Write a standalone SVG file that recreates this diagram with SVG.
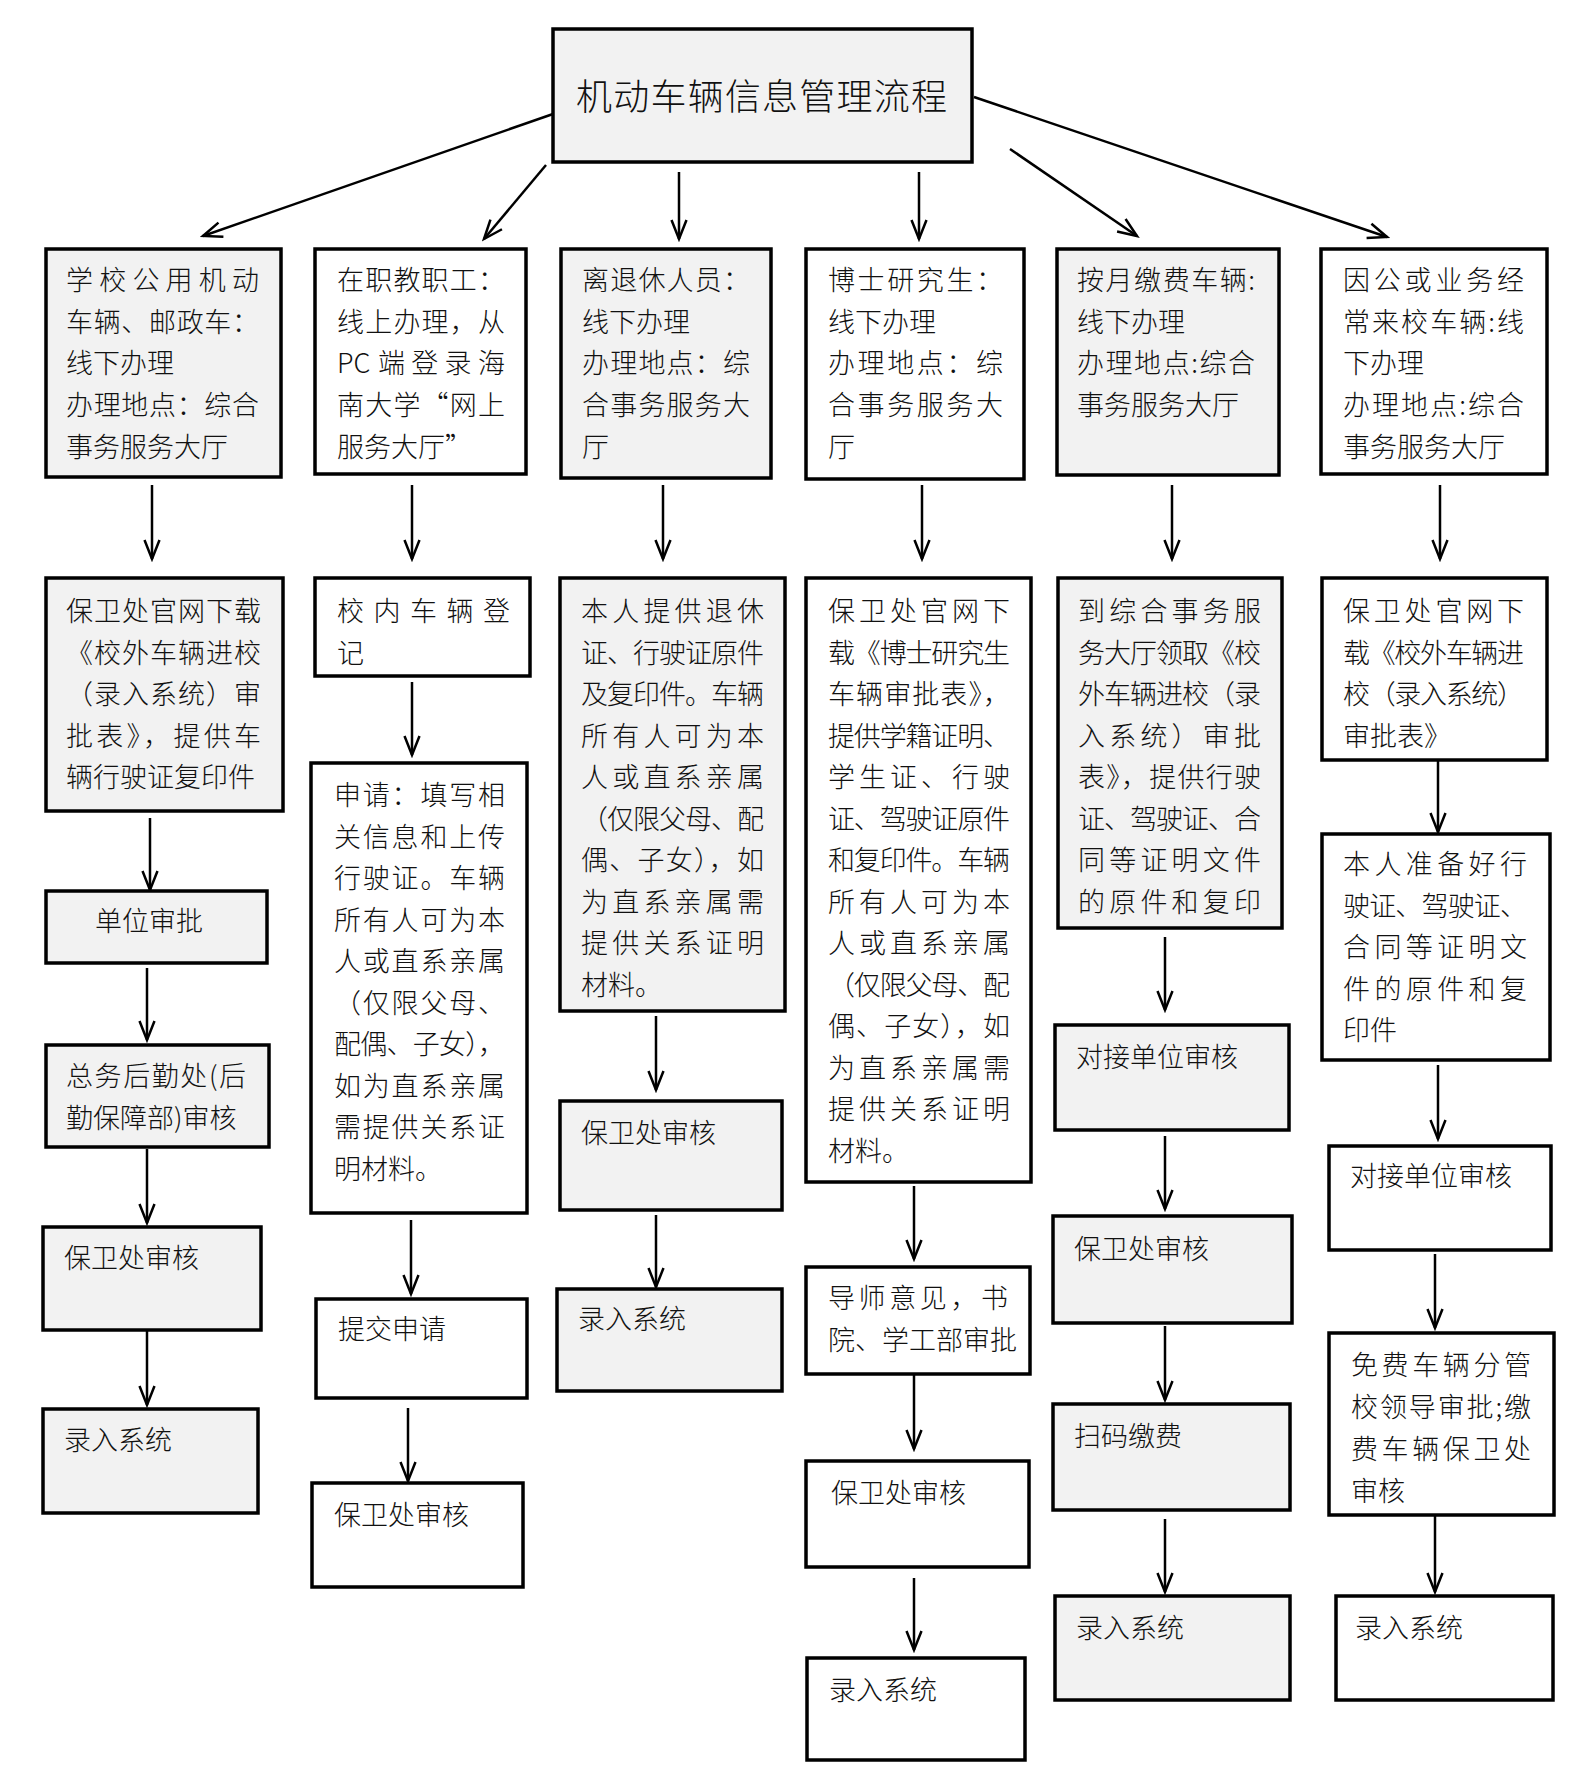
<svg xmlns="http://www.w3.org/2000/svg" width="1586" height="1789" viewBox="0 0 1586 1789">
<defs>
<style>
rect{stroke:#000;stroke-width:3.5}
.g{fill:#f2f2f2}
.w{fill:#fff}
text{font-family:"Noto Sans CJK SC","Noto Sans",sans-serif;font-size:27px;font-weight:300;fill:#111}
.title{font-size:36px}
#connectors line{stroke:#000;stroke-width:2.5;fill:none}
</style>
<marker id="ah" markerUnits="userSpaceOnUse" markerWidth="24" markerHeight="20" viewBox="0 0 24 20" refX="21" refY="10" orient="auto">
<path d="M2,2.5 L21,10 L2,17.5" fill="none" stroke="#000" stroke-width="2.5"/>
</marker>
</defs>
<rect x="0" y="0" width="1586" height="1789" fill="#fff" style="stroke:none"/>

<g id="connectors">
<line x1="553" y1="114" x2="203" y2="236" marker-end="url(#ah)"/>
<line x1="546" y1="165" x2="484" y2="239" marker-end="url(#ah)"/>
<line x1="679" y1="172" x2="679" y2="239" marker-end="url(#ah)"/>
<line x1="919" y1="172" x2="919" y2="239" marker-end="url(#ah)"/>
<line x1="1010" y1="149" x2="1137" y2="236" marker-end="url(#ah)"/>
<line x1="974" y1="97" x2="1387" y2="237" marker-end="url(#ah)"/>
<line x1="152" y1="485" x2="152" y2="559" marker-end="url(#ah)"/>
<line x1="412" y1="485" x2="412" y2="559" marker-end="url(#ah)"/>
<line x1="663" y1="485" x2="663" y2="559" marker-end="url(#ah)"/>
<line x1="922" y1="485" x2="922" y2="559" marker-end="url(#ah)"/>
<line x1="1172" y1="485" x2="1172" y2="559" marker-end="url(#ah)"/>
<line x1="1440" y1="485" x2="1440" y2="559" marker-end="url(#ah)"/>
<line x1="150" y1="818" x2="150" y2="890" marker-end="url(#ah)"/>
<line x1="147" y1="968" x2="147" y2="1040" marker-end="url(#ah)"/>
<line x1="147" y1="1149" x2="147" y2="1223" marker-end="url(#ah)"/>
<line x1="147" y1="1331" x2="147" y2="1405" marker-end="url(#ah)"/>
<line x1="412" y1="682" x2="412" y2="755" marker-end="url(#ah)"/>
<line x1="411" y1="1220" x2="411" y2="1294" marker-end="url(#ah)"/>
<line x1="408" y1="1408" x2="408" y2="1481" marker-end="url(#ah)"/>
<line x1="656" y1="1016" x2="656" y2="1090" marker-end="url(#ah)"/>
<line x1="656" y1="1215" x2="656" y2="1287" marker-end="url(#ah)"/>
<line x1="914" y1="1186" x2="914" y2="1259" marker-end="url(#ah)"/>
<line x1="914" y1="1375" x2="914" y2="1449" marker-end="url(#ah)"/>
<line x1="914" y1="1578" x2="914" y2="1650" marker-end="url(#ah)"/>
<line x1="1165" y1="937" x2="1165" y2="1010" marker-end="url(#ah)"/>
<line x1="1165" y1="1136" x2="1165" y2="1209" marker-end="url(#ah)"/>
<line x1="1165" y1="1326" x2="1165" y2="1400" marker-end="url(#ah)"/>
<line x1="1165" y1="1519" x2="1165" y2="1592" marker-end="url(#ah)"/>
<line x1="1438" y1="760" x2="1438" y2="832" marker-end="url(#ah)"/>
<line x1="1438" y1="1065" x2="1438" y2="1139" marker-end="url(#ah)"/>
<line x1="1435" y1="1254" x2="1435" y2="1328" marker-end="url(#ah)"/>
<line x1="1435" y1="1516" x2="1435" y2="1592" marker-end="url(#ah)"/>
</g>

<g id="n-title">
<rect class="g" x="553" y="29" width="419" height="133"/>
<text class="title" x="576" y="110" textLength="371" lengthAdjust="spacing">机动车辆信息管理流程</text>
</g>

<g id="n-b1">
<rect class="g" x="46" y="249" width="235" height="228"/>
<text x="66" y="290" textLength="193" lengthAdjust="spacing">学校公用机动</text>
<text x="66" y="331.7" textLength="193" lengthAdjust="spacing">车辆、邮政车：</text>
<text x="66" y="373.4">线下办理</text>
<text x="66" y="415.1" textLength="193" lengthAdjust="spacing">办理地点：综合</text>
<text x="66" y="456.8">事务服务大厅</text>
</g>

<g id="n-b2">
<rect class="w" x="315" y="249" width="211" height="225"/>
<text x="337" y="290" textLength="168" lengthAdjust="spacing">在职教职工：</text>
<text x="337" y="331.7" textLength="168" lengthAdjust="spacing">线上办理，从</text>
<text x="337" y="373.4">PC <tspan x="378" letter-spacing="6.3">端登录海</tspan></text>
<text x="337" y="415.1" textLength="168" lengthAdjust="spacing">南大学“网上</text>
<text x="337" y="456.8">服务大厅”</text>
</g>

<g id="n-b3">
<rect class="g" x="561" y="249" width="210" height="229"/>
<text x="582" y="290" textLength="168" lengthAdjust="spacing">离退休人员：</text>
<text x="582" y="331.7">线下办理</text>
<text x="582" y="373.4" textLength="168" lengthAdjust="spacing">办理地点：综</text>
<text x="582" y="415.1" textLength="168" lengthAdjust="spacing">合事务服务大</text>
<text x="582" y="456.8">厅</text>
</g>

<g id="n-b4">
<rect class="w" x="806" y="249" width="218" height="230"/>
<text x="828" y="290" textLength="175" lengthAdjust="spacing">博士研究生：</text>
<text x="828" y="331.7">线下办理</text>
<text x="828" y="373.4" textLength="175" lengthAdjust="spacing">办理地点：综</text>
<text x="828" y="415.1" textLength="175" lengthAdjust="spacing">合事务服务大</text>
<text x="828" y="456.8">厅</text>
</g>

<g id="n-b5">
<rect class="g" x="1057" y="249" width="222" height="226"/>
<text x="1077" y="290" textLength="178" lengthAdjust="spacing">按月缴费车辆:</text>
<text x="1077" y="331.7">线下办理</text>
<text x="1077" y="373.4" textLength="178" lengthAdjust="spacing">办理地点:综合</text>
<text x="1077" y="415.1">事务服务大厅</text>
</g>

<g id="n-b6">
<rect class="w" x="1321" y="249" width="226" height="225"/>
<text x="1343" y="290" textLength="181" lengthAdjust="spacing">因公或业务经</text>
<text x="1343" y="331.7" textLength="181" lengthAdjust="spacing">常来校车辆:线</text>
<text x="1343" y="373.4">下办理</text>
<text x="1343" y="415.1" textLength="181" lengthAdjust="spacing">办理地点:综合</text>
<text x="1343" y="456.8">事务服务大厅</text>
</g>

<g id="n-c1">
<rect class="g" x="46" y="578" width="237" height="233"/>
<text x="66" y="621" textLength="195" lengthAdjust="spacing">保卫处官网下载</text>
<text x="66" y="662.5" textLength="195" lengthAdjust="spacing">《校外车辆进校</text>
<text x="66" y="704" textLength="195" lengthAdjust="spacing">（录入系统）审</text>
<text x="66" y="745.5" textLength="195" lengthAdjust="spacing">批表》，提供车</text>
<text x="66" y="787">辆行驶证复印件</text>
</g>

<g id="n-c1b">
<rect class="g" x="46" y="891" width="221" height="72"/>
<text x="95" y="931">单位审批</text>
</g>

<g id="n-c1c">
<rect class="g" x="46" y="1045" width="223" height="102"/>
<text x="66" y="1086" textLength="180" lengthAdjust="spacing">总务后勤处(后</text>
<text x="66" y="1128">勤保障部)审核</text>
</g>

<g id="n-c1d">
<rect class="g" x="43" y="1227" width="218" height="103"/>
<text x="64" y="1268">保卫处审核</text>
</g>

<g id="n-c1e">
<rect class="g" x="43" y="1409" width="215" height="104"/>
<text x="64" y="1450">录入系统</text>
</g>

<g id="n-c2">
<rect class="w" x="315" y="578" width="215" height="98"/>
<text x="337" y="621" textLength="173" lengthAdjust="spacing">校内车辆登</text>
<text x="337" y="662.5">记</text>
</g>

<g id="n-c2b">
<rect class="w" x="311" y="763" width="216" height="450"/>
<text x="334" y="805" textLength="171" lengthAdjust="spacing">申请：填写相</text>
<text x="334" y="846.5" textLength="171" lengthAdjust="spacing">关信息和上传</text>
<text x="334" y="888" textLength="171" lengthAdjust="spacing">行驶证。车辆</text>
<text x="334" y="929.5" textLength="171" lengthAdjust="spacing">所有人可为本</text>
<text x="334" y="971" textLength="171" lengthAdjust="spacing">人或直系亲属</text>
<text x="334" y="1012.5" textLength="171" lengthAdjust="spacing">（仅限父母、</text>
<text x="334" y="1054" textLength="171" lengthAdjust="spacing">配偶、子女），</text>
<text x="334" y="1095.5" textLength="171" lengthAdjust="spacing">如为直系亲属</text>
<text x="334" y="1137" textLength="171" lengthAdjust="spacing">需提供关系证</text>
<text x="334" y="1178.5">明材料。</text>
</g>

<g id="n-c2c">
<rect class="w" x="316" y="1299" width="211" height="99"/>
<text x="338" y="1339">提交申请</text>
</g>

<g id="n-c2d">
<rect class="w" x="312" y="1483" width="211" height="104"/>
<text x="334" y="1525">保卫处审核</text>
</g>

<g id="n-c3">
<rect class="g" x="560" y="578" width="225" height="433"/>
<text x="581" y="621" textLength="183" lengthAdjust="spacing">本人提供退休</text>
<text x="581" y="662.5" textLength="183" lengthAdjust="spacing">证、行驶证原件</text>
<text x="581" y="704" textLength="183" lengthAdjust="spacing">及复印件。车辆</text>
<text x="581" y="745.5" textLength="183" lengthAdjust="spacing">所有人可为本</text>
<text x="581" y="787" textLength="183" lengthAdjust="spacing">人或直系亲属</text>
<text x="581" y="828.5" textLength="183" lengthAdjust="spacing">（仅限父母、配</text>
<text x="581" y="870" textLength="183" lengthAdjust="spacing">偶、子女），如</text>
<text x="581" y="911.5" textLength="183" lengthAdjust="spacing">为直系亲属需</text>
<text x="581" y="953" textLength="183" lengthAdjust="spacing">提供关系证明</text>
<text x="581" y="994.5">材料。</text>
</g>

<g id="n-c3b">
<rect class="g" x="560" y="1101" width="222" height="109"/>
<text x="581" y="1143">保卫处审核</text>
</g>

<g id="n-c3c">
<rect class="g" x="557" y="1289" width="225" height="102"/>
<text x="578" y="1329">录入系统</text>
</g>

<g id="n-d1">
<rect class="w" x="806" y="578" width="225" height="604"/>
<text x="828" y="621" textLength="182" lengthAdjust="spacing">保卫处官网下</text>
<text x="828" y="662.5" textLength="182" lengthAdjust="spacing">载《博士研究生</text>
<text x="828" y="704" textLength="182" lengthAdjust="spacing">车辆审批表》，</text>
<text x="828" y="745.5" textLength="182" lengthAdjust="spacing">提供学籍证明、</text>
<text x="828" y="787" textLength="182" lengthAdjust="spacing">学生证、行驶</text>
<text x="828" y="828.5" textLength="182" lengthAdjust="spacing">证、驾驶证原件</text>
<text x="828" y="870" textLength="182" lengthAdjust="spacing">和复印件。车辆</text>
<text x="828" y="911.5" textLength="182" lengthAdjust="spacing">所有人可为本</text>
<text x="828" y="953" textLength="182" lengthAdjust="spacing">人或直系亲属</text>
<text x="828" y="994.5" textLength="182" lengthAdjust="spacing">（仅限父母、配</text>
<text x="828" y="1036" textLength="182" lengthAdjust="spacing">偶、子女），如</text>
<text x="828" y="1077.5" textLength="182" lengthAdjust="spacing">为直系亲属需</text>
<text x="828" y="1119" textLength="182" lengthAdjust="spacing">提供关系证明</text>
<text x="828" y="1160.5">材料。</text>
</g>

<g id="n-d2">
<rect class="w" x="806" y="1267" width="224" height="107"/>
<text x="828" y="1308" textLength="180" lengthAdjust="spacing">导师意见，书</text>
<text x="828" y="1350">院、学工部审批</text>
</g>

<g id="n-d3">
<rect class="w" x="806" y="1461" width="223" height="106"/>
<text x="831" y="1503">保卫处审核</text>
</g>

<g id="n-d4">
<rect class="w" x="807" y="1658" width="218" height="102"/>
<text x="829" y="1700">录入系统</text>
</g>

<g id="n-e1">
<rect class="g" x="1058" y="578" width="224" height="350"/>
<text x="1078" y="621" textLength="183" lengthAdjust="spacing">到综合事务服</text>
<text x="1078" y="662.5" textLength="183" lengthAdjust="spacing">务大厅领取《校</text>
<text x="1078" y="704" textLength="183" lengthAdjust="spacing">外车辆进校（录</text>
<text x="1078" y="745.5" textLength="183" lengthAdjust="spacing">入系统）审批</text>
<text x="1078" y="787" textLength="183" lengthAdjust="spacing">表》，提供行驶</text>
<text x="1078" y="828.5" textLength="183" lengthAdjust="spacing">证、驾驶证、合</text>
<text x="1078" y="870" textLength="183" lengthAdjust="spacing">同等证明文件</text>
<text x="1078" y="911.5" textLength="183" lengthAdjust="spacing">的原件和复印</text>
</g>

<g id="n-e2">
<rect class="g" x="1055" y="1025" width="234" height="105"/>
<text x="1076" y="1067">对接单位审核</text>
</g>

<g id="n-e3">
<rect class="g" x="1053" y="1216" width="239" height="107"/>
<text x="1074" y="1259">保卫处审核</text>
</g>

<g id="n-e4">
<rect class="g" x="1053" y="1404" width="237" height="106"/>
<text x="1074" y="1446">扫码缴费</text>
</g>

<g id="n-e5">
<rect class="g" x="1055" y="1596" width="235" height="104"/>
<text x="1076" y="1638">录入系统</text>
</g>

<g id="n-f1">
<rect class="w" x="1322" y="578" width="225" height="182"/>
<text x="1343" y="621" textLength="181" lengthAdjust="spacing">保卫处官网下</text>
<text x="1343" y="662.5" textLength="181" lengthAdjust="spacing">载《校外车辆进</text>
<text x="1343" y="704" textLength="181" lengthAdjust="spacing">校（录入系统）</text>
<text x="1343" y="745.5">审批表》</text>
</g>

<g id="n-f2">
<rect class="w" x="1322" y="834" width="228" height="226"/>
<text x="1343" y="874" textLength="184" lengthAdjust="spacing">本人准备好行</text>
<text x="1343" y="915.5" textLength="184" lengthAdjust="spacing">驶证、驾驶证、</text>
<text x="1343" y="957" textLength="184" lengthAdjust="spacing">合同等证明文</text>
<text x="1343" y="998.5" textLength="184" lengthAdjust="spacing">件的原件和复</text>
<text x="1343" y="1040">印件</text>
</g>

<g id="n-f3">
<rect class="w" x="1329" y="1146" width="222" height="104"/>
<text x="1350" y="1186">对接单位审核</text>
</g>

<g id="n-f4">
<rect class="w" x="1329" y="1333" width="225" height="182"/>
<text x="1351" y="1375" textLength="180" lengthAdjust="spacing">免费车辆分管</text>
<text x="1351" y="1417" textLength="180" lengthAdjust="spacing">校领导审批;缴</text>
<text x="1351" y="1459" textLength="180" lengthAdjust="spacing">费车辆保卫处</text>
<text x="1351" y="1501">审核</text>
</g>

<g id="n-f5">
<rect class="w" x="1336" y="1596" width="217" height="104"/>
<text x="1355" y="1638">录入系统</text>
</g>
</svg>
